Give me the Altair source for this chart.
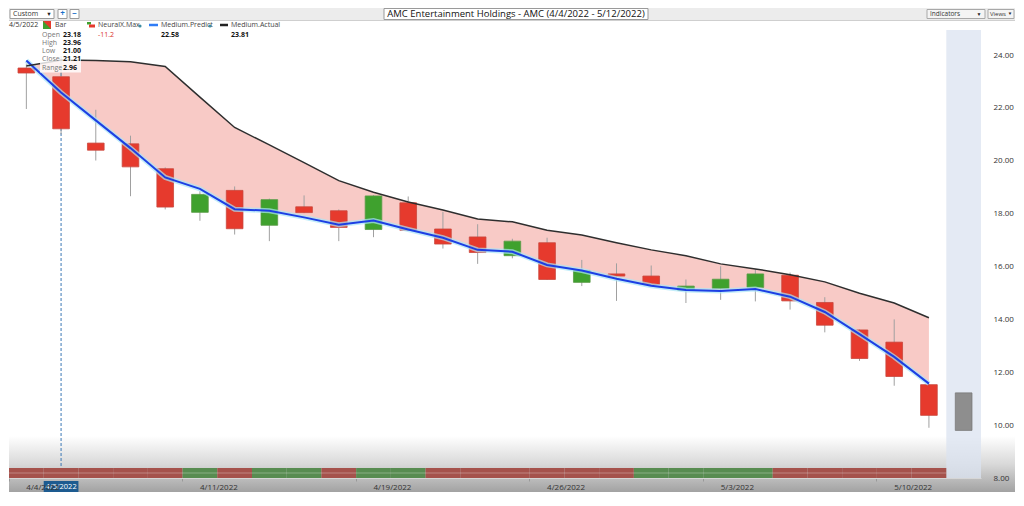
import altair as alt
import pandas as pd

# ---------------- data ----------------
dates = ["4/4/2022", "4/5/2022", "4/6/2022", "4/7/2022", "4/8/2022",
         "4/11/2022", "4/12/2022", "4/13/2022", "4/14/2022", "4/18/2022",
         "4/19/2022", "4/20/2022", "4/21/2022", "4/22/2022", "4/25/2022",
         "4/26/2022", "4/27/2022", "4/28/2022", "4/29/2022", "5/2/2022",
         "5/3/2022", "5/4/2022", "5/5/2022", "5/6/2022", "5/9/2022",
         "5/10/2022", "5/11/2022"]
forecast_date = "5/12/2022"
opens = [23.51, 23.18, 20.67, 20.64, 19.70, 18.05, 18.88, 17.56, 18.26, 18.11,
         17.40, 18.41, 17.42, 17.12, 16.41, 16.90, 15.40, 15.72, 15.64, 15.10,
         15.17, 15.21, 15.67, 14.64, 13.60, 13.14, 11.53]
highs = [23.65, 23.96, 21.93, 20.95, 19.75, 18.85, 19.03, 18.57, 18.69, 18.16,
         18.70, 18.65, 18.07, 17.60, 17.05, 17.09, 16.25, 16.12, 16.04, 15.51,
         16.01, 15.91, 15.77, 14.84, 13.62, 14.00, 11.55]
lows = [21.96, 21.00, 20.01, 18.66, 18.16, 17.73, 17.21, 16.96, 18.02, 16.96,
        17.11, 17.35, 16.68, 16.10, 16.31, 15.50, 15.26, 14.70, 15.30, 14.62,
        14.74, 14.68, 14.37, 13.51, 12.43, 11.49, 9.90]
closes = [23.32, 21.21, 20.40, 19.77, 18.25, 18.73, 17.43, 18.53, 18.04, 17.48,
          18.67, 17.37, 16.85, 16.53, 16.96, 15.51, 15.85, 15.64, 15.32, 15.26,
          15.52, 15.72, 14.70, 13.78, 12.52, 11.84, 10.37]
medium_actual = [23.59, 23.81, 23.79, 23.75, 23.57, 22.41, 21.26, 20.60, 19.93, 19.25,
                 18.81, 18.44, 18.14, 17.80, 17.69, 17.37, 17.19, 16.90, 16.63, 16.41,
                 16.10, 15.91, 15.69, 15.42, 14.99, 14.62, 14.06]
medium_predict = [23.79, 22.58, 21.53, 20.48, 19.37, 18.94, 18.17, 18.11, 17.86, 17.58,
                  17.74, 17.40, 17.09, 16.63, 16.56, 16.06, 15.85, 15.54, 15.27, 15.11,
                  15.07, 15.15, 14.86, 14.28, 13.44, 12.58, 11.57]
neuralx_sign = ["R", "R", "R", "R", "R", "G", "R", "G", "G", "R",
                "G", "G", "R", "R", "R", "R", "R", "R", "G", "G",
                "G", "G", "R", "R", "R", "R", "R"]
forecast_top = [11.22]
forecast_bottom = [9.80]
tick_dates = ["4/4/2022", "4/11/2022", "4/19/2022", "4/26/2022", "5/3/2022", "5/10/2022"]
y_ticks = [8, 10, 12, 14, 16, 18, 20, 22, 24]
all_dates = dates + [forecast_date]

df = pd.DataFrame({"date": dates, "open": opens, "high": highs, "low": lows,
                   "close": closes, "actual": medium_actual,
                   "predict": medium_predict, "sign": neuralx_sign})
df["dir"] = ["up" if c >= o else "down" for o, c in zip(opens, closes)]
fdf = pd.DataFrame({"date": [forecast_date], "top": forecast_top, "bottom": forecast_bottom})

# ---------------- layout ----------------
W, H = 972, 470
FULL = 1006
FONT = "Open Sans"

xscale = alt.Scale(domain=all_dates, paddingInner=0, paddingOuter=0)
yscale = alt.Scale(domain=[8, 25.78], nice=False, zero=False)
xaxis = alt.Axis(values=tick_dates, bandPosition=0, labelAlign="left",
                 labelAngle=0, labelFontSize=8, labelColor="#333",
                 labelFont=FONT, tickSize=3, tickColor="#999",
                 labelPadding=2, domainColor="#d6d6d6", zindex=1,
                 labelOverlap=False)


def X(center=False):
    if center:
        return alt.X("date:O", scale=xscale, sort=all_dates, title=None,
                     bandPosition=0.5, axis=xaxis)
    return alt.X("date:O", scale=xscale, sort=all_dates, title=None, axis=xaxis)


def Y(field):
    return alt.Y(field, type="quantitative", scale=yscale, title=None,
                 axis=alt.Axis(orient="right", values=y_ticks, format=".2f",
                               labelFontSize=8, labelColor="#333", labelFont=FONT,
                               domain=False, ticks=False, grid=False,
                               labelPadding=12, zindex=1))


def one():
    return pd.DataFrame({"k": [0]})


def txt(s, x, y, size=7.5, color="#333", weight="normal", align="left"):
    return alt.Chart(pd.DataFrame({"t": [s]})).mark_text(
        align=align, baseline="middle", fontSize=size, color=color,
        fontWeight=weight, font=FONT).encode(
        x=alt.value(x), y=alt.value(y), text="t:N")


def box(x, y, x2, y2, fill, stroke=None, opacity=1.0):
    kw = {}
    if stroke is not None:
        kw = {"stroke": stroke, "strokeWidth": 1}
    return alt.Chart(one()).mark_rect(fill=fill, opacity=opacity, **kw).encode(
        x=alt.value(x), x2=alt.value(x2), y=alt.value(y), y2=alt.value(y2))


def hline(x, x2, y, color, width=1.0, opacity=1.0):
    return alt.Chart(one()).mark_rule(color=color, strokeWidth=width, opacity=opacity).encode(
        x=alt.value(x), x2=alt.value(x2), y=alt.value(y))


base = alt.Chart(df)

# bottom shadow gradient
gradient = alt.Chart(one()).mark_rect(
    fill=alt.LinearGradient(gradient="linear",
                            stops=[alt.GradientStop(color="#ffffff", offset=0),
                                   alt.GradientStop(color="#d9d9d9", offset=0.5),
                                   alt.GradientStop(color="#a2a2a2", offset=1)],
                            x1=0, x2=0, y1=0, y2=1)).encode(
    x=alt.value(0), x2=alt.value(FULL), y=alt.value(428), y2=alt.value(484))

# forecast column
fcol = alt.Chart(fdf).mark_rect(fill="#dbe3f0", opacity=0.75).encode(
    x=X(), y=alt.value(22), y2=alt.value(H))

band_area = base.mark_area(color="#f6bdb8", opacity=0.8).encode(
    x=X(True), y=Y("actual"), y2="predict")

crosshair = alt.Chart(pd.DataFrame({"date": ["4/5/2022"]})).mark_rule(
    color="#3b78b5", strokeDash=[3, 2], strokeWidth=1).encode(
    x=X(True), y=alt.value(60), y2=alt.value(H))

wicks = base.mark_rule(color="#a0a0a0", strokeWidth=1).encode(
    x=X(True), y=Y("low"), y2="high")

bodies = base.mark_bar(width=alt.RelativeBandSize(0.48), strokeWidth=0.8).encode(
    x=X(), y=Y("open"), y2="close",
    color=alt.Color("dir:N", scale=alt.Scale(domain=["up", "down"],
                                             range=["#3fa12e", "#e63a2d"]), legend=None),
    stroke=alt.Stroke("dir:N", scale=alt.Scale(domain=["up", "down"],
                                               range=["#5a9a48", "#c9483e"]), legend=None))

fbar = alt.Chart(fdf).mark_bar(width=alt.RelativeBandSize(0.48), color="#8e8e8e",
                               stroke="#7a7a7a", strokeWidth=0.8).encode(
    x=X(), y=Y("top"), y2="bottom")

glow = base.mark_line(color="#a9e6f8", strokeWidth=5, opacity=0.7).encode(x=X(True), y=Y("predict"))
pline = base.mark_line(color="#1c3fe4", strokeWidth=2).encode(x=X(True), y=Y("predict"))
aline = base.mark_line(color="#2e2e2e", strokeWidth=1.5).encode(x=X(True), y=Y("actual"))

strip = base.mark_rect().encode(
    x=X(), y=alt.value(460), y2=alt.value(470),
    fill=alt.Fill("sign:N", scale=alt.Scale(domain=["R", "G"],
                                            range=["#a5524c", "#588c51"]), legend=None))
strip_line = hline(0, W * 27 / 28, 465, "#ffffff", 1, 0.3)

# toolbar
toolbar = [
    box(0, 0, FULL, 12, "#ececec"),
    hline(0, FULL, 12.5, "#cfcfcf"),
    box(1, 1.5, 45, 10.5, "#ffffff", "#9a9a9a"),
    txt("Custom", 4, 6, 7),
    txt("\u25BC", 40, 6, 5.5, "#222", align="center"),
    box(49, 1.5, 58, 10.5, "#ffffff", "#9a9a9a"),
    txt("+", 53.5, 6, 8, "#1a6fc9", "bold", "center"),
    box(61, 1.5, 70, 10.5, "#ffffff", "#9a9a9a"),
    txt("\u2212", 65.5, 6, 8, "#1a6fc9", "bold", "center"),
    box(375, 0.5, 639, 11.5, "#ffffff", "#9a9a9a"),
    txt("AMC Entertainment Holdings - AMC (4/4/2022 - 5/12/2022)", 507, 6.2, 9.5, "#111", align="center"),
    box(918, 1.5, 976, 10.5, "#f4f4f4", "#a8a8a8"),
    txt("Indicators", 921, 6.2, 6.5, "#333"),
    txt("\u25BC", 970, 6.2, 5, "#222", align="center"),
    box(979, 1.5, 1005, 10.5, "#f4f4f4", "#a8a8a8"),
    txt("Views", 981, 6.2, 6, "#333"),
    txt("\u25BC", 1001, 6.2, 4.5, "#222", align="center"),
]

# legend row
LY = 17
VY = 26.5
bar_icon_g = box(34, LY - 4, 42, LY + 4, "#e53a2c")
bar_icon_r = alt.Chart(one()).mark_point(shape="M-1,-1 L-1,1 L1,1 Z", filled=True,
                                         size=64, color="#3fa12e", opacity=1).encode(
    x=alt.value(38), y=alt.value(LY))
legend = [
    txt("4/5/2022", 0, LY, 7),
    bar_icon_g, bar_icon_r,
    txt("Bar", 46, LY, 7, "#444"),
    box(31, VY - 4.5, 72, VY + 38, "#ffffff", opacity=0.8),
    box(78, LY - 3, 82, LY - 0.5, "#3fa12e"),
    box(80, LY - 0.5, 86, LY + 2.5, "#e53a2c"),
    txt("NeuralX.Max", 89, LY, 7, "#444"),
    txt("-11.2", 89, VY, 7, "#d9302a"),
    hline(140, 149, LY, "#2f7cf6", 2.5),
    txt("Medium.Predict", 152, LY, 7, "#444"),
    txt("22.58", 152, VY, 7, "#111", "bold"),
    hline(211, 219, LY, "#222", 2.5),
    txt("Medium.Actual", 222, LY, 7, "#444"),
    txt("23.81", 222, VY, 7, "#111", "bold"),
]
for xp in (131, 201):
    legend.append(alt.Chart(one()).mark_point(filled=True, size=10, color="#3d8ea3",
                                              opacity=1).encode(x=alt.value(xp), y=alt.value(LY + 1)))
hover_labels = ["Open", "High", "Low", "Close", "Range"]
hover_values = ["23.18", "23.96", "21.00", "21.21", "2.96"]
for i, (lab, val) in enumerate(zip(hover_labels, hover_values)):
    yy = VY + i * 8.3
    legend.append(txt(lab, 33, yy, 7, "#777"))
    legend.append(txt(val, 54, yy, 7, "#111", "bold"))

# crosshair date label at bottom
cross_df = pd.DataFrame({"date": ["4/5/2022"]})
cross_box = alt.Chart(cross_df).mark_rect(fill="#1d5b90").encode(
    x=X(), y=alt.value(473), y2=alt.value(484))
cross_txt = alt.Chart(cross_df).mark_text(text="4/5/2022", color="#ffffff", fontSize=7.5,
                                          font=FONT, baseline="middle").encode(
    x=X(True), y=alt.value(478.5))

chart = alt.layer(
    gradient, fcol, band_area, crosshair, wicks, bodies, fbar,
    glow, pline, aline, strip, strip_line,
    *toolbar, *legend, cross_box, cross_txt
).resolve_scale(x="shared", y="shared").properties(
    width=W, height=H, padding=0, background="#ffffff"
).configure_view(stroke=None)

chart.save("out.html", embed_options={"renderer": "svg", "actions": False})
